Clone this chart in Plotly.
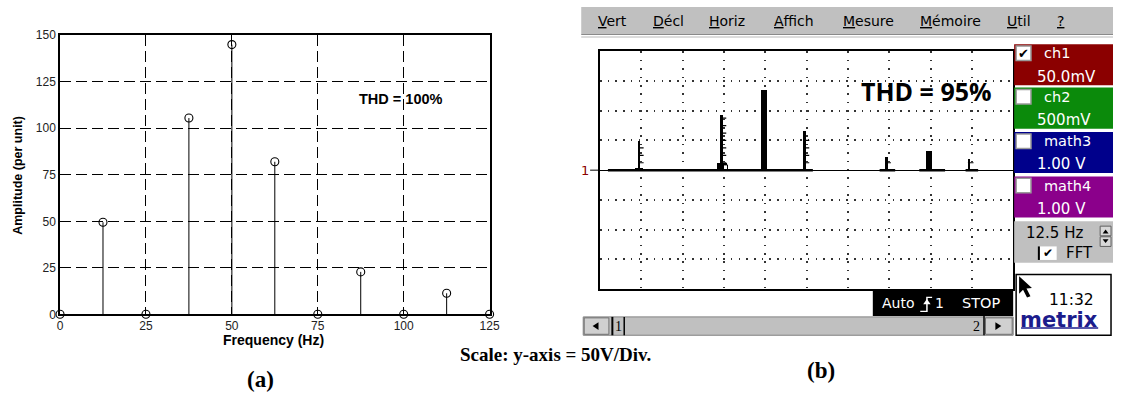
import plotly.graph_objects as go

W, H = 1123, 405

# ---------------- data: panel (a) simulated spectrum ----------------
freq_a = [0, 12.5, 25, 37.5, 50, 62.5, 75, 87.5, 100, 112.5, 125]
amp_a = [0, 49.5, 0, 105.5, 145, 82, 0, 22.8, 0, 11.3, 0]
xticks_a = [0, 25, 50, 75, 100, 125]
yticks_a = [0, 25, 50, 75, 100, 125, 150]

# ---------------- data: panel (b) scope FFT (V, 50 V/div) ----------------
freq_b = [11.8, 36.8, 49.5, 61.9, 86.6, 99.5, 111.6]
amp_b = [48, 91.5, 135, 64.5, 21, 32, 18.5]
ped_freq_b = [11.8, 36.9]
ped_amp_b = [3, 11]
notch_freq_b = [38.0]
notch_amp_b = [8.5]
trace_start_b = [2.4, 84.6, 96.6, 110.6]
trace_end_b = [64.4, 89.3, 104.4, 114.4]

menu_labels = ["Vert", "Décl", "Horiz", "Affich", "Mesure", "Mémoire", "Util", "?"]
channel_names = ["ch1", "ch2", "math3", "math4"]
channel_scales = ["50.0mV", "500mV", "1.00 V", "1.00 V"]

# ---------------- styles ----------------
spike_w = [0.85, 0.85, 1.75, 0.85, 0.8, 2.0, 0.8]
thin_spike = [True, True, False, True, True, False, True]
ped_w = [2.6, 3.0]
notch_w = [1.2]
menu_x = [600, 656, 712, 778, 848, 926, 1014, 1064]
channel_colors = ["#8b0000", "#0b8a0b", "#00008b", "#8b008b"]
channel_top = [38.5, 83.5, 129.5, 175.5]


def px(x):
    return x / W


def py(y):
    return 1 - y / H


shapes = []
annotations = []


def rect(x0, y0, x1, y1, fill, line=None, lw=0):
    shapes.append(dict(type="rect", xref="paper", yref="paper",
                       x0=px(x0), x1=px(x1), y0=py(y1), y1=py(y0),
                       fillcolor=fill, line=dict(color=line or fill, width=lw),
                       layer="above"))


def seg(x0, y0, x1, y1, color="black", lw=1):
    shapes.append(dict(type="line", xref="paper", yref="paper",
                       x0=px(x0), x1=px(x1), y0=py(y0), y1=py(y1),
                       line=dict(color=color, width=lw), layer="above"))


def poly(pts, fill="black", line=None, lw=0):
    p = "M " + " L ".join(f"{px(a):.5f},{py(b):.5f}" for a, b in pts) + " Z"
    shapes.append(dict(type="path", xref="paper", yref="paper", path=p,
                       fillcolor=fill, line=dict(color=line or fill, width=lw),
                       layer="above"))


def text(x, y, s, size=14, color="black", xa="center", family="DejaVu Sans", ya="middle", angle=0):
    annotations.append(dict(x=px(x), y=py(y), xref="paper", yref="paper", text=s,
                            showarrow=False, xanchor=xa, yanchor=ya, textangle=angle,
                            font=dict(size=size, color=color, family=family)))


fig = go.Figure()

# ---------------- panel (a) ----------------
sx, sy = [], []
for f, a in zip(freq_a, amp_a):
    if a > 0:
        sx += [f, f, None]
        sy += [0, a, None]
fig.add_trace(go.Scatter(x=sx, y=sy, mode="lines", line=dict(color="black", width=1),
                         xaxis="x", yaxis="y", hoverinfo="skip", cliponaxis=False))
fig.add_trace(go.Scatter(x=freq_a, y=amp_a, mode="markers",
                         marker=dict(symbol="circle-open", size=8, color="black",
                                     line=dict(width=1.1, color="black")),
                         xaxis="x", yaxis="y", cliponaxis=False))

# ---------------- panel (b) ----------------
tx, ty = [], []
for s, e in zip(trace_start_b, trace_end_b):
    tx += [s, e, None]
    ty += [0, 0, None]
fig.add_trace(go.Scatter(x=tx, y=ty, mode="lines", line=dict(color="black", width=2.5),
                         xaxis="x2", yaxis="y2", hoverinfo="skip"))
fig.add_trace(go.Bar(x=ped_freq_b, y=ped_amp_b, width=ped_w, marker=dict(color="black", line=dict(width=0)),
                     xaxis="x2", yaxis="y2"))
fig.add_trace(go.Bar(x=notch_freq_b, y=notch_amp_b, width=notch_w,
                     marker=dict(color="white", line=dict(width=1, color="black")),
                     xaxis="x2", yaxis="y2"))
fig.add_trace(go.Bar(x=freq_b, y=amp_b, width=spike_w, marker=dict(color="black", line=dict(width=0)),
                     xaxis="x2", yaxis="y2"))
# small graduation ticks on the thin spikes (scope rendering)
lx, ly = [], []
for f, a, thin in zip(freq_b, amp_b, thin_spike):
    if thin:
        v = 12.5
        while v < a - 3:
            lx.append(f + 0.55)
            ly.append(v)
            v += 12.5
fig.add_trace(go.Scatter(x=lx, y=ly, mode="markers",
                         marker=dict(symbol="line-ew", size=4, line=dict(width=1.2, color="black")),
                         xaxis="x2", yaxis="y2", hoverinfo="skip"))

# ---------------- decorations (a) ----------------
text(403, 95, "<b>THD = 100%</b>", 14.5, "black", family="Liberation Sans")
text(274, 344.5, "<b>Frequency (Hz)</b>", 14, "black", family="Liberation Sans")
text(15, 174, "<b>Amplitude (per unit)</b>", 12.5, "black", family="Liberation Sans", angle=-90)

# captions
text(559, 360, "<b>Scale: y-axis = 50V/Div.</b>", 19, "black", family="Liberation Serif")
text(261, 386, "<b>(a)</b>", 23, "black", family="Liberation Serif")
text(828, 376, "<b>(b)</b>", 23, "black", family="Liberation Serif")

# ---------------- decorations (b): scope UI ----------------
# menu bar
rect(585, 0, 1123, 28, "#c0c0c0")
seg(585, 28.5, 1123, 28.5, "#8a8a8a", 1)
seg(585, 31, 1123, 31, "#d0d0d0", 1.5)
for lab, x in zip(menu_labels, menu_x):
    s = '<span style="text-decoration:underline">' + lab[0] + "</span>" + lab[1:]
    text(x, 15, s, 14, "black", xa="left")

# THD label
text(934, 87, "<b>THD = 95%</b>", 25, "black", family="Open Sans")
# reference marker
text(589, 169, "1", 13, "#8b0000")
seg(594, 169, 604, 169, "black", 1)

# channel boxes
for name, scale, col, top in zip(channel_names, channel_scales, channel_colors, channel_top):
    rect(1023, top, 1123, top + 42.5, col)
    rect(1025, top + 2, 1040, top + 17, "white", "#9a9a9a", 1.5)
    text(1051, top + 9.5, name, 14.5, "white", xa="left")
    text(1044, top + 33.5, scale, 15, "white", xa="left")
text(1032.5, 48, "✔", 13, "black")

# frequency / FFT box
rect(1023, 222, 1123, 265, "#c0c0c0")
text(1033, 234.5, "12.5 Hz", 15, "black", xa="left")
rect(1110, 227, 1121, 237, "#d8d8d8", "#606060", 1)
rect(1110, 238, 1121, 248, "#d8d8d8", "#606060", 1)
poly([(1112.5, 234.5), (1118.5, 234.5), (1115.5, 230.5)])
poly([(1112.5, 240.5), (1118.5, 240.5), (1115.5, 244.5)])
rect(1049, 248, 1066, 262, "white")
seg(1048, 248, 1048, 262, "black", 2)
text(1057.5, 255, "✔", 12, "black")
text(1073, 254.5, "FFT", 15, "black", xa="left")

# clock / logo box
rect(1025, 277, 1121, 340, "white", "black", 1.5)
poly([(1028, 279), (1028, 297), (1032, 293), (1036, 301), (1039.5, 299.5),
      (1035.5, 291.5), (1041, 291)])
text(1081, 303, "11:32", 15.5, "black")
text(1068, 324, "<b>metrix</b>", 21, "#1c1c8c", family="DejaVu Sans")
seg(1030, 332.5, 1108, 332.5, "#1c1c8c", 1.5)

# status box
rect(880, 294, 1022, 320, "black")
text(887, 307, "Auto", 14, "white", xa="left")
poly([(928, 314.5), (934, 314.5), (934, 300), (940, 300), (940, 301.5), (935.5, 301.5),
      (935.5, 316), (928, 316)], "white")
poly([(931, 308), (938.5, 308), (934.7, 302.5)], "white")
text(941, 307, "1", 14, "white", xa="left")
text(968, 307, "STOP", 14.5, "white", xa="left")

# scrollbar
rect(587, 321, 1022, 340, "#c0c0c0", "#808080", 1)
rect(588, 322, 613, 339, "#d0d0d0", "#707070", 1)
poly([(596.5, 330.5), (602.5, 326.5), (602.5, 334.5)])
seg(616.5, 321, 616.5, 340, "black", 2)
text(622.5, 331, "1", 14, "black", family="Liberation Serif")
seg(628.5, 321, 628.5, 340, "black", 1.5)
text(985, 331, "2", 14, "black", family="Liberation Serif")
seg(992.5, 318, 992.5, 340, "black", 1.5)
rect(994, 322, 1021, 339, "#d0d0d0", "#707070", 1)
poly([(1004, 326.5), (1004, 334.5), (1010, 330.5)])

tickfont_a = dict(family="Liberation Sans", size=12, color="#222222")
fig.update_layout(
    width=W, height=H, margin=dict(l=0, r=0, t=0, b=0),
    paper_bgcolor="white", plot_bgcolor="white", showlegend=False,
    barmode="overlay", bargap=0,
    xaxis=dict(domain=[px(57.7), px(492.3)], range=[0, 125], anchor="y",
               tickvals=xticks_a, ticktext=[str(v) for v in xticks_a], tickfont=tickfont_a,
               showgrid=True, gridcolor="black", gridwidth=1, griddash="11px,5px",
               showline=True, linecolor="black", linewidth=1.6, mirror=True,
               zeroline=False, ticks="", fixedrange=True),
    yaxis=dict(domain=[py(318.3), py(29.3)], range=[0, 150], anchor="x",
               tickvals=yticks_a, ticktext=[str(v) for v in yticks_a], tickfont=tickfont_a,
               showgrid=True, gridcolor="black", gridwidth=1, griddash="11px,5px",
               showline=True, linecolor="black", linewidth=1.6, mirror=True,
               zeroline=False, ticks="", fixedrange=True),
    xaxis2=dict(domain=[px(604), px(1022)], range=[0, 125], anchor="y2",
                dtick=12.5, tick0=0, showticklabels=False,
                showgrid=True, gridcolor="#333333", gridwidth=1.5, griddash="1.5px,6.9px",
                showline=True, linecolor="black", linewidth=1.6, mirror=True,
                zeroline=False, ticks="", fixedrange=True),
    yaxis2=dict(domain=[py(292), py(46)], range=[-200, 200], anchor="x2",
                dtick=50, tick0=0, showticklabels=False,
                showgrid=True, gridcolor="#333333", gridwidth=1.5, griddash="1.5px,6.2px",
                showline=True, linecolor="black", linewidth=1.6, mirror=True,
                zeroline=True, zerolinecolor="black", zerolinewidth=1,
                ticks="", fixedrange=True),
    shapes=shapes, annotations=annotations,
)

fig.write_html(
    "out.html",
    config={"displayModeBar": False},
    post_script="document.body.style.margin='0';document.body.style.padding='0';"
                "document.body.style.overflow='hidden';",
)
